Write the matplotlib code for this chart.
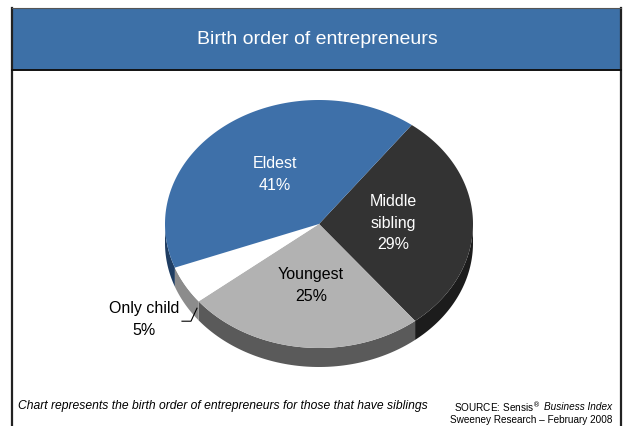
"""
Birth order of entrepreneurs - 3D style pie recreated with plain matplotlib.
"""
import numpy as np
import matplotlib
matplotlib.use("Agg")
import matplotlib.pyplot as plt
from matplotlib.patches import Polygon, Rectangle

plt.rcParams["font.family"] = ["Liberation Sans Narrow", "Liberation Sans", "DejaVu Sans"]

# data (clockwise from the Eldest/Middle boundary)
labels = ["Middle\nsibling", "Youngest", "Only child", "Eldest"]
shares = [29, 25, 5, 41]
top_colors = ["#333333", "#b2b2b2", "#ffffff", "#3e70a9"]
side_colors = ["#1c1c1c", "#5a5a5a", "#8c8c8c", "#1f3d62"]
text_colors = ["white", "black", "black", "white"]

title = "Birth order of entrepreneurs"
note = "Chart represents the birth order of entrepreneurs for those that have siblings"

# pie geometry in pixel space
cx, cy = 319, 224
rx, ry = 154, 124
depth = 19
start = 53.0


def ell(t, dy=0):
    t = np.radians(t)
    return np.column_stack([cx + rx * np.cos(t), cy - ry * np.sin(t) + dy])


fig = plt.figure(figsize=(6.26, 4.26), dpi=100)
ax = fig.add_axes([0, 0, 1, 1])
ax.set_xlim(0, 626)
ax.set_ylim(426, 0)
ax.axis("off")

# frame and title bar
ax.plot([12, 12], [8, 426], color="#222222", lw=1.6)
ax.plot([621, 621], [8, 426], color="#222222", lw=1.6)
ax.add_patch(Rectangle((12, 8), 609, 62, facecolor="#3d70a7", edgecolor="none"))
ax.plot([12, 621], [8, 8], color="#555555", lw=0.8)
ax.plot([12, 621], [70, 70], color="#111111", lw=1.4)
ax.text(317, 40, title, color="white", fontsize=14, ha="center", va="center")

# slice angles (clockwise)
bounds = start - 3.6 * np.concatenate([[0], np.cumsum(shares)])

# sides (front half only)
for i in range(len(shares)):
    lo, hi = sorted((bounds[i], bounds[i + 1]))
    for k in range(-2, 2):
        s0, s1 = max(lo, -180 + 360 * k), min(hi, 360 * k)
        if s1 > s0:
            t = np.linspace(s0, s1, 80)
            pts = np.vstack([ell(t), ell(t[::-1], depth)])
            ax.add_patch(Polygon(pts, closed=True, facecolor=side_colors[i],
                                 edgecolor="none"))

# top faces
for i in range(len(shares)):
    t = np.linspace(bounds[i], bounds[i + 1], 120)
    pts = np.vstack([[cx, cy], ell(t)])
    ax.add_patch(Polygon(pts, closed=True, facecolor=top_colors[i],
                         edgecolor="none"))

# labels
for i in range(len(shares)):
    mid = (bounds[i] + bounds[i + 1]) / 2
    txt = f"{labels[i]}\n{shares[i]}%"
    if shares[i] < 10:
        # small slice: label outside with a leader line
        edge = ell([mid + 8], depth * 0.45)[0]
        ax.plot([edge[0] - 15, edge[0] - 6, edge[0]],
                [edge[1] + 13, edge[1] + 13, edge[1]], color="black", lw=0.8)
        ax.text(edge[0] - 53, edge[1] + 11, txt, color=text_colors[i],
                fontsize=11.5, ha="center", va="center", linespacing=1.55)
    else:
        p = ell([mid])[0]
        x = cx + (p[0] - cx) * 0.48
        y = cy + (p[1] - cy) * 0.5
        ax.text(x, y, txt, color=text_colors[i], fontsize=11.5,
                ha="center", va="center", linespacing=1.55)

# footer
ax.text(18, 406, note, fontsize=8.7, style="italic", ha="left", va="center")
bi = ax.text(612, 407, "Business Index", fontsize=7.2, style="italic",
             ha="right", va="center")
fig.canvas.draw()
bb = bi.get_window_extent().transformed(ax.transData.inverted())
ax.text(min(bb.x0, bb.x1) - 3, 407, "SOURCE: Sensis$^{\u00ae}$", fontsize=7.2,
        ha="right", va="center")
ax.text(612, 420, "Sweeney Research \u2013 February 2008", fontsize=7.2,
        ha="right", va="center")

fig.savefig("out.png", dpi=100)
